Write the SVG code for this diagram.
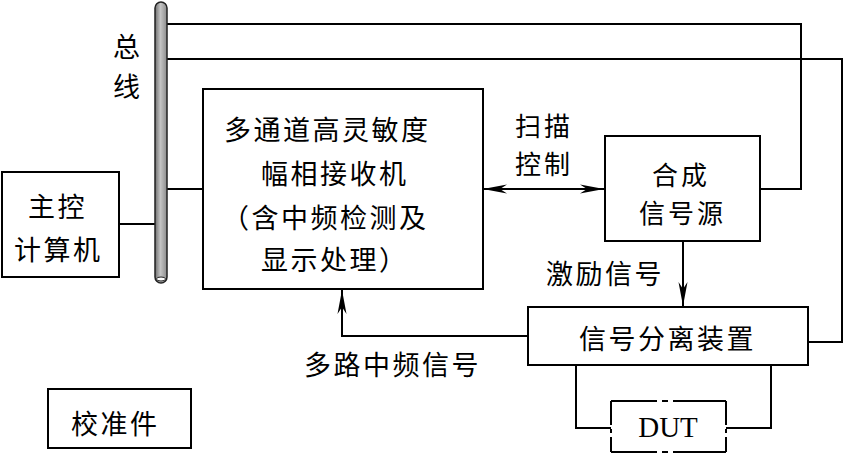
<svg xmlns="http://www.w3.org/2000/svg" width="844" height="457" viewBox="0 0 844 457">
<style>
.box{fill:#fff;stroke:#000;stroke-width:2}
.ln{fill:none;stroke:#000;stroke-width:2}
.t{font-family:"Noto Sans CJK SC","Noto Sans",sans-serif;font-size:27px;letter-spacing:2.5px;fill:#000;dominant-baseline:central}
.s{font-size:26px;letter-spacing:3px}
.dut{font-family:"Liberation Serif",serif;font-size:29px;fill:#000}
</style>
<defs>
<linearGradient id="busg" x1="0" y1="0" x2="1" y2="0">
<stop offset="0" stop-color="#6e6e6e"/>
<stop offset="0.45" stop-color="#c4c4c4"/>
<stop offset="1" stop-color="#8c8c8c"/>
</linearGradient>
<marker id="ah" markerUnits="userSpaceOnUse" markerWidth="26" markerHeight="10" refX="24" refY="5" orient="auto-start-reverse" viewBox="0 0 26 10">
<path d="M0,0.5 L24,5 L0,9.5 L7,5 z" fill="#000"/>
</marker>
</defs>

<g id="connectors">
<polyline class="ln" points="167,24 801,24 801,189 760,189"/>
<polyline class="ln" points="167,59 842,59 842,342 808,342"/>
<line class="ln" x1="167" y1="189" x2="203" y2="189"/>
<line class="ln" x1="119" y1="224" x2="155" y2="224"/>
<line class="ln" x1="483" y1="189" x2="604" y2="189" marker-start="url(#ah)" marker-end="url(#ah)"/>
<line class="ln" x1="683" y1="241" x2="683" y2="306" marker-end="url(#ah)"/>
<polyline class="ln" points="528,336 342,336 342,290" marker-end="url(#ah)"/>
<polyline class="ln" points="576,365 576,428 611,428"/>
<polyline class="ln" points="771,365 771,428 726,428"/>
<text class="t s" x="515" y="124">扫描</text>
<text class="t s" x="515" y="162">控制</text>
<text class="t" x="546" y="272">激励信号</text>
<text class="t" x="304" y="363">多路中频信号</text>
</g>

<g id="bus">
<rect x="155" y="2" width="12" height="281" rx="6" fill="url(#busg)" stroke="#222" stroke-width="1.5"/>
<ellipse cx="161" cy="279" rx="4.5" ry="2" fill="#fff" stroke="#222" stroke-width="1"/>
<text class="t" x="113" y="45">总</text>
<text class="t" x="113" y="85">线</text>
</g>

<g id="host">
<rect class="box" x="2" y="172" width="117" height="105"/>
<text class="t" x="28" y="205">主控</text>
<text class="t" x="14" y="248">计算机</text>
</g>

<g id="receiver">
<rect class="box" x="203" y="89" width="280" height="200"/>
<text class="t" x="224" y="128">多通道高灵敏度</text>
<text class="t" x="261" y="172">幅相接收机</text>
<text class="t" x="222" y="216">（含中频检测及</text>
<text class="t" x="261" y="258">显示处理）</text>
</g>

<g id="synth">
<rect class="box" x="605" y="136" width="155" height="105"/>
<text class="t s" x="652" y="173">合成</text>
<text class="t s" x="639" y="211">信号源</text>
</g>

<g id="separator">
<rect class="box" x="528" y="307" width="280" height="58"/>
<text class="t" x="579" y="337">信号分离装置</text>
</g>

<g id="dut">
<line class="ln" x1="611" y1="401" x2="726" y2="401" stroke-dasharray="46 5 6 5 60"/>
<line class="ln" x1="611" y1="452" x2="726" y2="452" stroke-dasharray="46 5 6 5 60"/>
<line class="ln" x1="611" y1="401" x2="611" y2="452" stroke-dasharray="24 4 4 4 30"/>
<line class="ln" x1="726" y1="401" x2="726" y2="452" stroke-dasharray="24 4 4 4 30"/>
<text class="dut" x="668" y="437" text-anchor="middle">DUT</text>
</g>

<g id="calib">
<rect class="box" x="48" y="389" width="143" height="59"/>
<text class="t" x="71" y="422">校准件</text>
</g>
</svg>
